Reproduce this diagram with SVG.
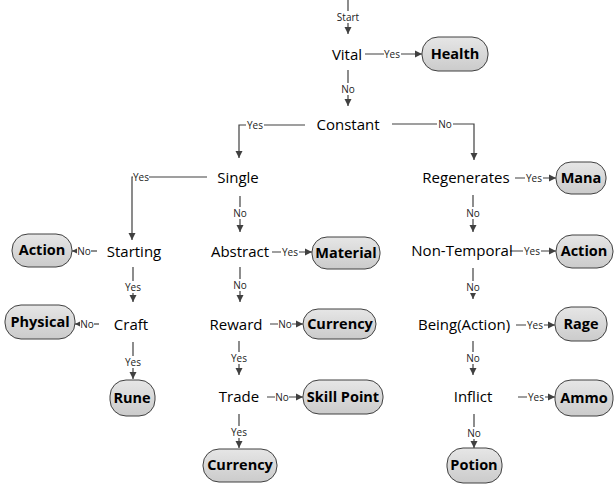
<svg xmlns="http://www.w3.org/2000/svg" width="614" height="485" viewBox="0 0 614 485">
<style>
.q{font-family:"Open Sans","Liberation Sans",sans-serif;font-size:15px;fill:#000;text-anchor:middle}
.t{font-family:"Open Sans","Liberation Sans",sans-serif;font-size:14.5px;font-weight:bold;fill:#000;text-anchor:middle}
.box{fill:url(#g);stroke:#404040;stroke-width:1}
.e{fill:none;stroke:#404040;stroke-width:1.2}
.a{marker-end:url(#ar)}
.l{font-family:"Open Sans","Liberation Sans",sans-serif;font-size:10px;fill:#222;text-anchor:middle}
.bg{fill:#fff}
</style>
<defs>
<linearGradient id="g" x1="0" y1="0" x2="0" y2="1">
<stop offset="0" stop-color="#e6e6e6"/>
<stop offset="1" stop-color="#cbcbcb"/>
</linearGradient>
<marker id="ar" markerWidth="8" markerHeight="8" refX="7" refY="4" orient="auto" markerUnits="userSpaceOnUse">
<path d="M0,0.5 L7,4 L0,7.5 Z" fill="#404040"/>
</marker>
</defs>

<g id="connectors">
<path class="e a" d="M348,0 V34"/>
<path class="e a" d="M348,70 V106"/>
<path class="e a" d="M365,54 H422"/>
<path class="e a" d="M305,125 H239 V158"/>
<path class="e a" d="M392,124 H474 V160"/>
<path class="e a" d="M207,177 H132 V240"/>
<path class="e a" d="M240,196 V232"/>
<path class="e a" d="M473,195 V232"/>
<path class="e a" d="M515,178 H556"/>
<path class="e a" d="M97,251 H72"/>
<path class="e a" d="M133,267 V302"/>
<path class="e a" d="M272,252 H312"/>
<path class="e a" d="M240,267 V302"/>
<path class="e a" d="M510,251 H556"/>
<path class="e a" d="M473,268 V299"/>
<path class="e a" d="M99,324 H75"/>
<path class="e a" d="M133,342 V379"/>
<path class="e a" d="M270,324 H303"/>
<path class="e a" d="M239,341 V375"/>
<path class="e a" d="M516,325 H555"/>
<path class="e a" d="M473,341 V375"/>
<path class="e a" d="M267,397 H303"/>
<path class="e a" d="M239,414 V448"/>
<path class="e a" d="M518,397 H555"/>
<path class="e a" d="M474,414 V448"/>
<g id="labels">
<rect class="bg" x="335" y="11" width="26" height="12"/><text class="l" x="348" y="21">Start</text>
<rect class="bg" x="340" y="83" width="16" height="12"/><text class="l" x="348" y="93">No</text>
<rect class="bg" x="384" y="48" width="17" height="12"/><text class="l" x="392" y="58">Yes</text>
<rect class="bg" x="246" y="119" width="18" height="12"/><text class="l" x="255" y="129">Yes</text>
<rect class="bg" x="437" y="118" width="16" height="12"/><text class="l" x="445" y="128">No</text>
<rect class="bg" x="133" y="171" width="16" height="12"/><text class="l" x="141" y="181">Yes</text>
<rect class="bg" x="232" y="207" width="16" height="12"/><text class="l" x="240" y="217">No</text>
<rect class="bg" x="465" y="207" width="16" height="12"/><text class="l" x="473" y="217">No</text>
<rect class="bg" x="525" y="172" width="18" height="12"/><text class="l" x="534" y="182">Yes</text>
<rect class="bg" x="77" y="245" width="14" height="12"/><text class="l" x="84" y="255">No</text>
<rect class="bg" x="124" y="281" width="18" height="12"/><text class="l" x="133" y="291">Yes</text>
<rect class="bg" x="281" y="246" width="18" height="12"/><text class="l" x="290" y="256">Yes</text>
<rect class="bg" x="232" y="279" width="16" height="12"/><text class="l" x="240" y="289">No</text>
<rect class="bg" x="523" y="245" width="18" height="12"/><text class="l" x="532" y="255">Yes</text>
<rect class="bg" x="465" y="281" width="16" height="12"/><text class="l" x="473" y="291">No</text>
<rect class="bg" x="80" y="318" width="14" height="12"/><text class="l" x="87" y="328">No</text>
<rect class="bg" x="124" y="356" width="18" height="12"/><text class="l" x="133" y="366">Yes</text>
<rect class="bg" x="278" y="318" width="14" height="12"/><text class="l" x="285" y="328">No</text>
<rect class="bg" x="230" y="352" width="18" height="12"/><text class="l" x="239" y="362">Yes</text>
<rect class="bg" x="526" y="319" width="18" height="12"/><text class="l" x="535" y="329">Yes</text>
<rect class="bg" x="465" y="352" width="16" height="12"/><text class="l" x="473" y="362">No</text>
<rect class="bg" x="275" y="391" width="14" height="12"/><text class="l" x="282" y="401">No</text>
<rect class="bg" x="230" y="426" width="18" height="12"/><text class="l" x="239" y="436">Yes</text>
<rect class="bg" x="527" y="391" width="18" height="12"/><text class="l" x="536" y="401">Yes</text>
<rect class="bg" x="466" y="427" width="16" height="12"/><text class="l" x="474" y="437">No</text>
</g>
</g>

<g id="vital"><text class="q" x="347" y="60">Vital</text></g>
<g id="constant"><text class="q" x="348" y="130">Constant</text></g>
<g id="single"><text class="q" x="238" y="183">Single</text></g>
<g id="regenerates"><text class="q" x="466" y="183">Regenerates</text></g>
<g id="starting"><text class="q" x="134" y="257">Starting</text></g>
<g id="abstract"><text class="q" x="240" y="257">Abstract</text></g>
<g id="nontemporal"><text class="q" x="462" y="256">Non-Temporal</text></g>
<g id="craft"><text class="q" x="131" y="330">Craft</text></g>
<g id="reward"><text class="q" x="236" y="330">Reward</text></g>
<g id="being"><text class="q" x="464" y="330">Being(Action)</text></g>
<g id="trade"><text class="q" x="239" y="402">Trade</text></g>
<g id="inflict"><text class="q" x="473" y="402">Inflict</text></g>

<g id="health"><rect class="box" x="422" y="37" width="66" height="34" rx="16"/><text class="t" x="455" y="59">Health</text></g>
<g id="mana"><rect class="box" x="556" y="162" width="50" height="32" rx="15"/><text class="t" x="581" y="183">Mana</text></g>
<g id="action1"><rect class="box" x="12" y="234" width="60" height="33" rx="16"/><text class="t" x="42" y="255">Action</text></g>
<g id="material"><rect class="box" x="312" y="237" width="68" height="32" rx="15"/><text class="t" x="346" y="258">Material</text></g>
<g id="action2"><rect class="box" x="556" y="235" width="57" height="33" rx="16"/><text class="t" x="584" y="256">Action</text></g>
<g id="physical"><rect class="box" x="5" y="305" width="70" height="34" rx="16"/><text class="t" x="40" y="327">Physical</text></g>
<g id="currency1"><rect class="box" x="303" y="309" width="73" height="30" rx="15"/><text class="t" x="340" y="329">Currency</text></g>
<g id="rage"><rect class="box" x="555" y="307" width="52" height="34" rx="16"/><text class="t" x="581" y="329">Rage</text></g>
<g id="rune"><rect class="box" x="110" y="380" width="45" height="36" rx="16"/><text class="t" x="132" y="403">Rune</text></g>
<g id="skillpoint"><rect class="box" x="303" y="380" width="80" height="34" rx="16"/><text class="t" x="343" y="402">Skill Point</text></g>
<g id="ammo"><rect class="box" x="555" y="380" width="58" height="36" rx="16"/><text class="t" x="584" y="403">Ammo</text></g>
<g id="currency2"><rect class="box" x="203" y="449" width="74" height="33" rx="16"/><text class="t" x="240" y="470">Currency</text></g>
<g id="potion"><rect class="box" x="447" y="448" width="55" height="35" rx="16"/><text class="t" x="474" y="470">Potion</text></g>
</svg>
